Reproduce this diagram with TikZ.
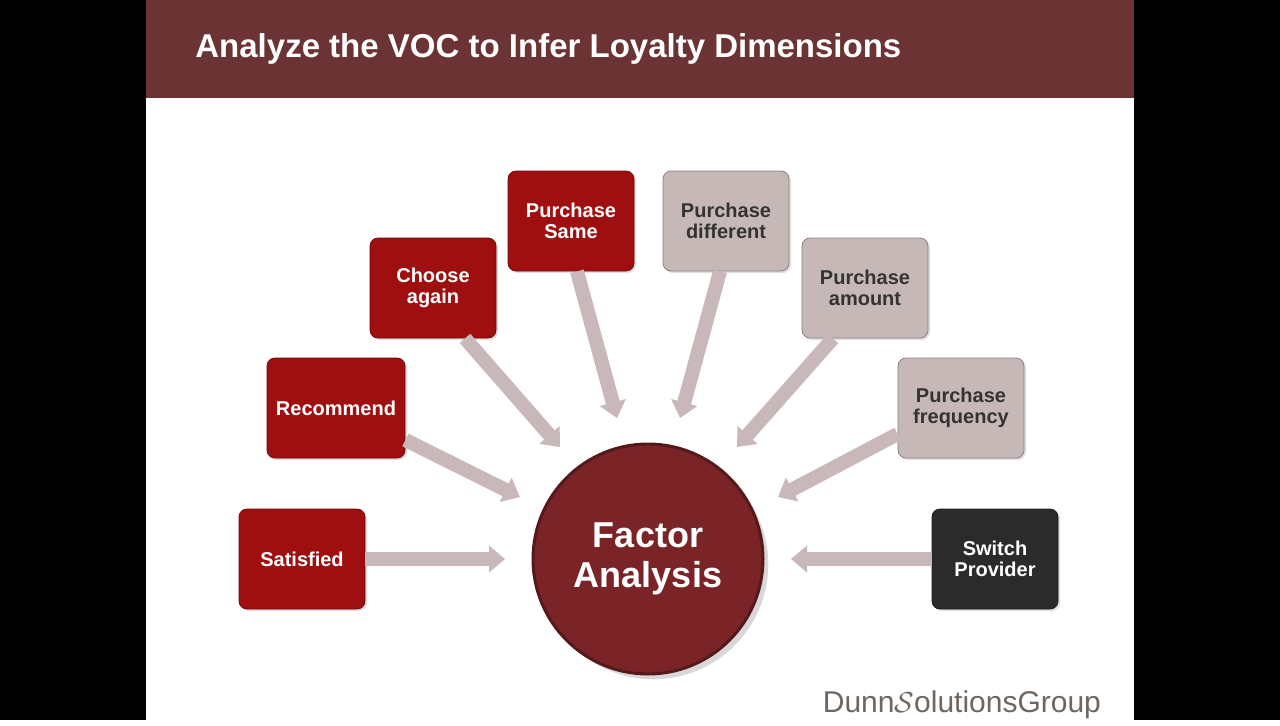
\documentclass[tikz,border=0pt]{standalone}
\usepackage{fontspec}
\setmainfont{Liberation Sans}
\usetikzlibrary{arrows.meta, shadows}
\definecolor{header}{HTML}{6B3334}
\definecolor{redbox}{HTML}{A00F10}
\definecolor{graybox}{HTML}{C7B8B8}
\definecolor{darkbox}{HTML}{2B2B2B}
\definecolor{arrowc}{HTML}{C9B8BA}
\definecolor{circ}{HTML}{7A2428}
\definecolor{logo}{HTML}{6E6660}

\tikzset{
    box/.style={draw=#1!70!black, fill=#1, rounded corners=4pt, minimum width=63pt,
        minimum height=50pt, align=center, font=\bfseries\fontsize{10}{10.5}\selectfont,
        drop shadow={opacity=0.25, shadow xshift=1pt, shadow yshift=-1pt}},
    redb/.style={box=redbox, text=white},
    grayb/.style={box=graybox, text=black!80},
    darkb/.style={box=darkbox, text=white},
    feed/.style={draw=arrowc, line width=7pt, -{Triangle[width=13pt, length=8pt]}}
}

\begin{document}
\begin{tikzpicture}[x=0.5pt, y=-0.5pt]
    % Slide background
    \fill[black] (0,0) rectangle (1280,720);
    \fill[white] (146,0) rectangle (1134,720);
    \fill[header] (146,0) rectangle (1134,98);
    \node[anchor=west, inner sep=0pt, text=white, font=\bfseries\fontsize{16.5}{18}\selectfont] (title) at (195,49)
        {Analyze the VOC to Infer Loyalty Dimensions};

    % Centre
    \node[circle, draw=circ!70!black, line width=1.5pt, fill=circ, minimum size=115pt,
        text=white, align=center, font=\bfseries\fontsize{18}{20}\selectfont,
        drop shadow={opacity=0.3}] (fa) at (648,559) {Factor\\Analysis};

    % Dimensions
    \node[redb] (sat) at (302,559) {Satisfied};
    \node[redb, minimum width=69pt] (rec) at (336,408) {Recommend};
    \node[redb] (cho) at (433,288) {Choose\\again};
    \node[redb] (pse) at (571,221) {Purchase\\Same};
    \node[grayb] (pdi) at (726,221) {Purchase\\different};
    \node[grayb] (pam) at (865,288) {Purchase\\amount};
    \node[grayb] (pfr) at (961,408) {Purchase\\frequency};
    \node[darkb] (swp) at (995,559) {Switch\\Provider};

    % Arrow tips
    \coordinate (tsat) at (505,559);
    \coordinate (trec) at (520,497);
    \coordinate (tcho) at (560,447);
    \coordinate (tpse) at (617,418);
    \coordinate (tpdi) at (680,418);
    \coordinate (tpam) at (737,447);
    \coordinate (tpfr) at (778,497);
    \coordinate (tswp) at (791,559);

    \draw[feed] (sat.east) -- (tsat);
    \draw[feed] ([yshift=-16pt]rec.east) -- (trec);
    \draw[feed] ([xshift=16pt]cho.south) -- (tcho);
    \draw[feed] ([xshift=3pt]pse.south) -- (tpse);
    \draw[feed] ([xshift=-3pt]pdi.south) -- (tpdi);
    \draw[feed] ([xshift=-16pt]pam.south) -- (tpam);
    \draw[feed] ([yshift=-13pt]pfr.west) -- (tpfr);
    \draw[feed] (swp.west) -- (tswp);

    % Logo
    \node[anchor=east, text=logo, font=\fontsize{15}{18}\selectfont] (logo) at (1108,705)
        {Dunn\raisebox{0pt}{$\mathcal{S}$}olutionsGroup};
\end{tikzpicture}
\end{document}
